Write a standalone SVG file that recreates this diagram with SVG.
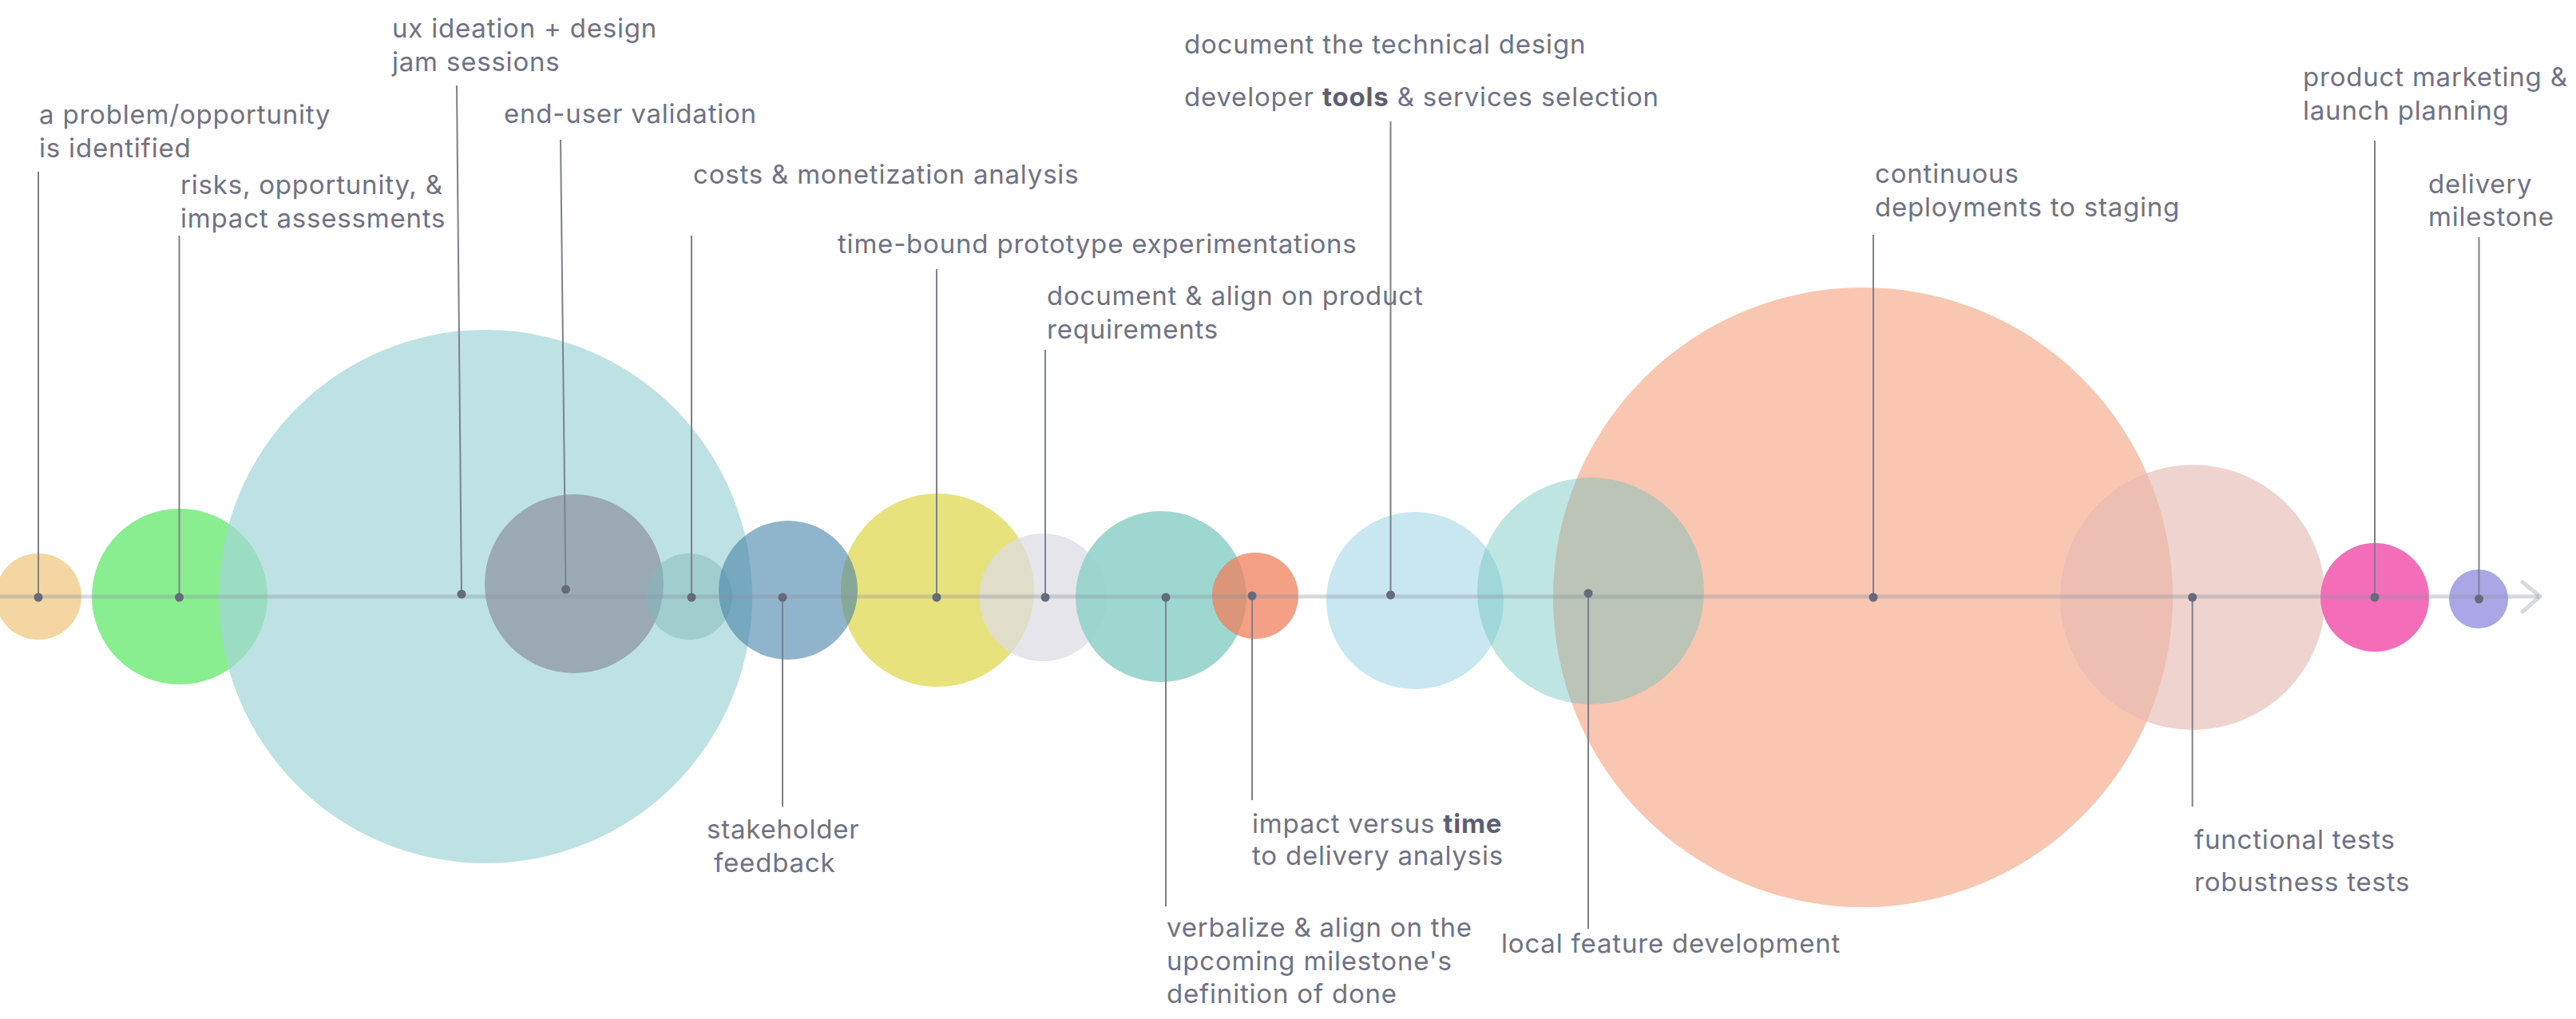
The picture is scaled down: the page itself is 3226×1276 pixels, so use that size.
<svg xmlns="http://www.w3.org/2000/svg" width="3226" height="1276" viewBox="0 0 3226 1276">
<style>
.lbl{font-family:Inter,"Noto Sans","Liberation Sans",sans-serif;font-size:33px;letter-spacing:0.8px;fill:#6E7284}
.b{font-weight:700;fill:#5A5F73}
.lead{stroke:#7C8090;stroke-width:2;fill:none}
.dot{fill:#666B7C}
.axis{stroke:rgb(140,145,160);stroke-opacity:0.35;stroke-width:5;fill:none}
</style>
<rect width="3226" height="1276" fill="#FFFFFF"/>
<g id="bubbles">
<circle id="n-problem" cx="48" cy="747" r="54" fill="#F4D6A2"/>
<circle id="n-risks" cx="225" cy="747" r="110" fill="#88EE8F"/>
<circle id="n-ux" cx="608" cy="747" r="334" fill="rgb(162,214,215)" fill-opacity="0.7"/>
<circle id="n-enduser" cx="719" cy="731" r="112" fill="#9BA9B5"/>
<circle id="n-costs" cx="863" cy="747" r="54" fill="rgb(130,185,188)" fill-opacity="0.5"/>
<circle id="n-timebound" cx="1174" cy="739" r="121" fill="#E8E27D"/>
<circle id="n-stakeholder" cx="987" cy="739" r="87" fill="rgb(70,130,168)" fill-opacity="0.6"/>
<circle id="n-docalign" cx="1306" cy="748" r="80" fill="rgb(221,219,229)" fill-opacity="0.72"/>
<circle id="n-verbalize" cx="1454" cy="747" r="107" fill="#92D3CA" fill-opacity="0.9"/>
<circle id="n-impact" cx="1572" cy="746" r="54" fill="rgb(240,128,92)" fill-opacity="0.75"/>
<circle id="n-devtools" cx="1772" cy="752" r="111" fill="#C9E7F0"/>
<circle id="n-continuous" cx="2333" cy="748" r="388" fill="#F8C6B1"/>
<circle id="n-local" cx="1992" cy="740" r="142" fill="rgb(103,193,188)" fill-opacity="0.42"/>
<circle id="n-tests" cx="2746" cy="748" r="166" fill="rgb(230,188,180)" fill-opacity="0.65"/>
<circle id="n-marketing" cx="2974" cy="748" r="68" fill="#F46DB8"/>
<circle id="n-delivery" cx="3104" cy="750" r="37" fill="#ABA6E6"/>
</g>
<g id="axis">
<line class="axis" x1="0" y1="747" x2="3180" y2="747"/>
<polyline class="axis" points="3159,729 3181,747 3159,766" stroke-linecap="round" stroke-linejoin="round"/>
</g>
<g id="connectors">
<line class="lead" x1="48" y1="215" x2="48" y2="748"/>
<line class="lead" x1="224.5" y1="295" x2="224.5" y2="748"/>
<line class="lead" x1="572" y1="107" x2="578" y2="744"/>
<line class="lead" x1="702" y1="175" x2="708.5" y2="738"/>
<line class="lead" x1="866" y1="295" x2="866" y2="748"/>
<line class="lead" x1="1173" y1="337" x2="1173" y2="748"/>
<line class="lead" x1="1309" y1="438" x2="1309" y2="748"/>
<line class="lead" x1="1741.5" y1="152" x2="1741.5" y2="745"/>
<line class="lead" x1="2346" y1="294" x2="2346" y2="748"/>
<line class="lead" x1="2974" y1="176" x2="2974" y2="748"/>
<line class="lead" x1="3104.5" y1="297" x2="3104.5" y2="750"/>
<line class="lead" x1="980" y1="748" x2="980" y2="1010"/>
<line class="lead" x1="1568" y1="746" x2="1568" y2="1002"/>
<line class="lead" x1="1460" y1="748" x2="1460" y2="1135"/>
<line class="lead" x1="1989" y1="743" x2="1989" y2="1163"/>
<line class="lead" x1="2745.6" y1="748" x2="2745.6" y2="1010"/>
<circle class="dot" cx="48" cy="748" r="5.5"/>
<circle class="dot" cx="224.5" cy="748" r="5.5"/>
<circle class="dot" cx="578" cy="744" r="5.5"/>
<circle class="dot" cx="708.5" cy="738" r="5.5"/>
<circle class="dot" cx="866" cy="748" r="5.5"/>
<circle class="dot" cx="980" cy="748" r="5.5"/>
<circle class="dot" cx="1173" cy="748" r="5.5"/>
<circle class="dot" cx="1309" cy="748" r="5.5"/>
<circle class="dot" cx="1460" cy="748" r="5.5"/>
<circle class="dot" cx="1568" cy="746" r="5.5"/>
<circle class="dot" cx="1741.5" cy="745" r="5.5"/>
<circle class="dot" cx="1989" cy="743" r="5.5"/>
<circle class="dot" cx="2346" cy="748" r="5.5"/>
<circle class="dot" cx="2745.6" cy="748" r="5.5"/>
<circle class="dot" cx="2974" cy="748" r="5.5"/>
<circle class="dot" cx="3104.5" cy="750" r="5.5"/>
</g>
<g id="labels">
<text class="lbl" x="49" y="155">a problem/opportunity</text>
<text class="lbl" x="49" y="197">is identified</text>
<text class="lbl" x="226" y="243">risks, opportunity, &amp;</text>
<text class="lbl" x="226" y="285">impact assessments</text>
<text class="lbl" x="491" y="47">ux ideation + design</text>
<text class="lbl" x="491" y="89">jam sessions</text>
<text class="lbl" x="631" y="154">end-user validation</text>
<text class="lbl" x="868" y="230">costs &amp; monetization analysis</text>
<text class="lbl" x="1049" y="317">time-bound prototype experimentations</text>
<text class="lbl" x="1311" y="382">document &amp; align on product</text>
<text class="lbl" x="1311" y="424">requirements</text>
<text class="lbl" x="1483" y="67">document the technical design</text>
<text class="lbl" x="1483" y="133">developer <tspan class="b">tools</tspan> &amp; services selection</text>
<text class="lbl" x="2348" y="229">continuous</text>
<text class="lbl" x="2348" y="271">deployments to staging</text>
<text class="lbl" x="2884" y="108">product marketing &amp;</text>
<text class="lbl" x="2884" y="150">launch planning</text>
<text class="lbl" x="3041" y="242">delivery</text>
<text class="lbl" x="3041" y="283">milestone</text>
<text class="lbl" x="885" y="1050">stakeholder</text>
<text class="lbl" x="894" y="1092">feedback</text>
<text class="lbl" x="1568" y="1043">impact versus <tspan class="b">time</tspan></text>
<text class="lbl" x="1568" y="1083">to delivery analysis</text>
<text class="lbl" x="1461" y="1173">verbalize &amp; align on the</text>
<text class="lbl" x="1461" y="1215">upcoming milestone's</text>
<text class="lbl" x="1461" y="1256">definition of done</text>
<text class="lbl" x="1880" y="1193">local feature development</text>
<text class="lbl" x="2748" y="1063">functional tests</text>
<text class="lbl" x="2748" y="1116">robustness tests</text>
</g>
</svg>
